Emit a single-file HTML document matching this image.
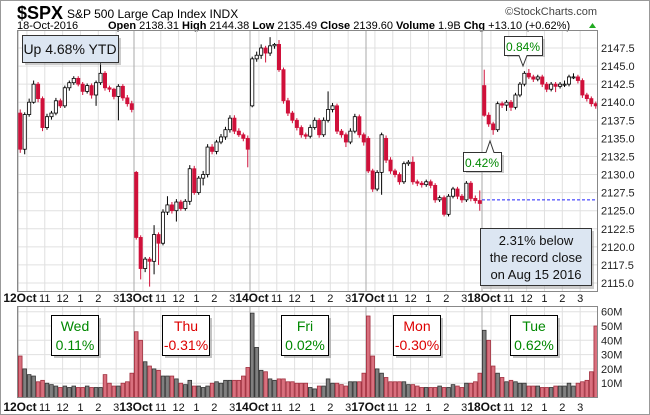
<!DOCTYPE html>
<html><head><meta charset="utf-8"><style>
body{margin:0;background:#fff}
svg{display:block;font-family:"Liberation Sans",sans-serif}
</style></head><body>
<svg id="c" width="650" height="415" viewBox="0 0 650 415">
<rect x="0.5" y="0.5" width="649" height="414" fill="#fff" stroke="#999"/>
<text x="17" y="19" font-size="18" font-weight="bold">$SPX</text>
<text x="67" y="18" font-size="12">S&amp;P 500 Large Cap Index  INDX</text>
<text x="597" y="15" font-size="11" text-anchor="end" fill="#444">©StockCharts.com</text>
<text x="17" y="29" font-size="11">18-Oct-2016</text>
<text x="108" y="29" font-size="11"><tspan font-weight="bold">Open</tspan> 2138.31 <tspan font-weight="bold">High</tspan> 2144.38 <tspan font-weight="bold">Low</tspan> 2135.49 <tspan font-weight="bold">Close</tspan> 2139.60 <tspan font-weight="bold">Volume</tspan> 1.9B <tspan font-weight="bold">Chg</tspan> +13.10 (+0.62%)</text>
<path d="M589 28 L592.5 23 L596 28Z" fill="#2a2"/>
<g id="grid"></g>
<g id="marks"></g>
<rect x="17.5" y="30.5" width="580" height="261" fill="none" stroke="#888"/>
<rect x="17.5" y="306.5" width="580" height="91" fill="none" stroke="#888"/>
<g id="notes"></g>
</svg>
<script>
const days=["12Oct","13Oct","14Oct","17Oct","18Oct"];
const hourLabels=["11","12","1","2","3"];
const priceTicks=[2115,2117.5,2120,2122.5,2125,2127.5,2130,2132.5,2135,2137.5,2140,2142.5,2145,2147.5];
const volTicks=[10,20,30,40,50,60];
const oct12=[[2138.5,2139,2133,2133.5],[2133.5,2138.6,2132.8,2138.3],[2138.3,2140.5,2138,2140],[2140,2143,2139.8,2142.5],[2142.5,2142.8,2140,2140.5],[2140.5,2140.8,2136,2136.5],[2136.5,2138.4,2136.2,2138],[2138,2138.8,2137.6,2138.5],[2138.5,2140.6,2138.2,2140.2],[2140.2,2140.5,2139.2,2139.5],[2139.5,2142.3,2139.2,2142],[2142,2143,2141.6,2142.7],[2142.7,2143.6,2142.4,2143.3],[2143.3,2143.6,2142.2,2142.5],[2142.5,2142.8,2141,2141.5],[2141.5,2142.6,2141.2,2142.3],[2142.3,2142.6,2140.5,2141],[2141,2143,2139.5,2142.7],[2142.7,2145.5,2142.4,2144],[2144,2144.3,2141.6,2142],[2142,2142.3,2141.4,2141.8],[2141.8,2142,2140.4,2140.8],[2140.8,2142.5,2137.5,2142.2],[2142.2,2142.5,2140.2,2140.6],[2140.6,2141,2139.4,2139.8],[2139.8,2140.2,2138.6,2139]];
const oct13=[[2130.3,2130.5,2121,2121.3],[2121.3,2121.6,2115.5,2117],[2117,2118.6,2116.5,2118.3],[2118.3,2118.6,2114.5,2118],[2118,2123,2116.2,2121.7],[2121.7,2122,2117.5,2120.5],[2120.5,2125.2,2120.2,2124.8],[2124.8,2127,2124.4,2125.8],[2125.8,2126.2,2124.6,2125],[2125,2126.6,2123.5,2126.2],[2126.2,2126.5,2125,2125.3],[2125.3,2126.6,2125,2126.3],[2126.3,2131.3,2125.8,2130.8],[2130.8,2131.2,2127.2,2127.5],[2127.5,2129.8,2127.2,2129.5],[2129.5,2130.5,2128.5,2130],[2130,2134.2,2129.6,2133.8],[2133.8,2134.2,2132.8,2133.2],[2133.2,2134.8,2132.8,2134.5],[2134.5,2135.6,2134.2,2135.2],[2135.2,2136.6,2134.8,2136.2],[2136.2,2138.2,2135.8,2137.8],[2137.8,2138.2,2135.6,2136],[2136,2136.4,2135.2,2135.5],[2135.5,2135.8,2134.6,2135],[2135,2135.4,2131,2133.5]];
const oct14=[[2139.5,2146.3,2139.3,2146],[2146,2147,2145.6,2146.5],[2146.5,2148,2146,2147.5],[2147.5,2147.8,2145.5,2146.8],[2146.8,2149,2146.4,2147.8],[2147.8,2148.2,2147.4,2148],[2148,2148.6,2144.2,2144.5],[2144.5,2144.8,2139.8,2140.2],[2140.2,2140.6,2138.1,2138.5],[2138.5,2138.8,2137.1,2137.5],[2137.5,2137.8,2136.1,2136.5],[2136.5,2136.8,2135.1,2135.5],[2135.5,2135.8,2134.9,2135.3],[2135.3,2136.9,2135,2136.5],[2136.5,2137.9,2136.2,2137.5],[2137.5,2137.8,2135.1,2135.5],[2135.5,2137.9,2135.2,2137.5],[2137.5,2141.5,2137.2,2139],[2139,2139.9,2138.6,2139.5],[2139.5,2139.8,2135.6,2136],[2136,2136.3,2135.1,2135.5],[2135.5,2135.8,2133.8,2134.5],[2134.5,2136.4,2134.2,2136],[2136,2138.4,2135.7,2138],[2138,2138.3,2135.1,2135.5],[2135.5,2135.8,2134,2134.5]];
const oct17=[[2135,2135.3,2130.2,2130.5],[2130.5,2130.8,2127.6,2128],[2128,2130.6,2127.7,2130.3],[2130.3,2135.8,2127.2,2135.5],[2135,2135.4,2131.6,2132],[2132,2132.4,2130.1,2130.5],[2130.5,2130.8,2129.6,2130],[2130,2130.3,2128.6,2129],[2129,2131.8,2128.7,2131.5],[2131.5,2132,2131.2,2131.7],[2131.7,2132.5,2128.6,2129],[2129,2129.3,2128.4,2128.8],[2128.8,2129.1,2128.2,2128.6],[2128.6,2129.3,2128.3,2129],[2129,2129.3,2128.1,2128.5],[2128.5,2128.8,2126.1,2126.5],[2126.5,2127.1,2126.2,2126.8],[2126.8,2127.1,2124.2,2124.5],[2124.5,2127.3,2124.2,2127],[2127,2128.3,2126.7,2128],[2128,2128.3,2126.6,2127],[2127,2127.3,2126.1,2126.5],[2126.5,2129.1,2126.2,2128.8],[2128.8,2129.1,2126.3,2126.7],[2126.7,2127.1,2126,2126.4],[2126.4,2127.8,2125,2126]];
const oct18=[[2142.3,2144.5,2138,2138.2],[2138.2,2138.6,2136.6,2137],[2137,2137.3,2135.5,2136.2],[2136.2,2140.1,2135.9,2139.8],[2139.8,2140.1,2139.2,2139.6],[2139.6,2140.3,2138.8,2140],[2140,2140.3,2138.8,2139.3],[2139.3,2141.3,2139,2141],[2141,2142.8,2140.7,2142.5],[2142.5,2144.3,2142.2,2144],[2144,2144.6,2143.2,2143.5],[2143.5,2143.8,2142.8,2143.2],[2143.2,2143.8,2142.9,2143.5],[2143.5,2143.8,2142.1,2142.5],[2142.5,2142.8,2141.4,2141.8],[2141.8,2142.8,2141.5,2142.5],[2142.5,2142.8,2141.4,2142.2],[2142.2,2142.8,2141.9,2142.5],[2142.5,2143,2142.1,2142.5],[2142.5,2143.8,2142.2,2143.5],[2143.5,2144,2143.2,2143.5],[2143.5,2143.8,2142.6,2143],[2143,2143.3,2140.6,2141],[2141,2141.3,2140.1,2140.5],[2140.5,2140.8,2139.4,2139.8],[2139.8,2140.1,2139.1,2139.5]];
const vol12=[29,20,16,15,11,12,10,9,8,7,8,7,8,7,7,8,7,7,7,16,10,8,8,10,11,17];
const vol13=[46,40,25,22,20,19,15,15,15,13,10,9,12,8,8,7,8,10,11,10,12,12,12,12,15,21];
const vol14=[59,35,19,18,13,12,13,13,11,11,10,10,10,7,6,8,8,13,10,10,9,8,11,11,11,17];
const vol17=[57,29,20,17,14,11,11,11,11,9,9,8,7,7,7,7,8,7,7,9,8,7,10,10,11,17];
const vol18=[47,40,22,17,14,11,12,11,10,10,8,8,8,7,7,7,8,8,8,10,8,10,11,12,18,50];
const recordLevel=2126.5;
const dayChanges=["Wed|0.11%","Thu|-0.31%","Fri|0.02%","Mon|-0.30%","Tue|0.62%"];

const bars=[].concat(oct12,oct13,oct14,oct17,oct18);
const vols=[].concat(vol12,vol13,vol14,vol17,vol18);
const X0=18,BW=580/130,BPD=26;
const xOf=i=>X0+(i+0.5)*BW;
const yP=p=>48+(2147.5-p)*(235/32.5);
const yV=v=>397.5-v*1.43;
const NS="http://www.w3.org/2000/svg";
function mk(tag,attrs,parent){const e=document.createElementNS(NS,tag);for(const k in attrs)e.setAttribute(k,attrs[k]);parent.appendChild(e);return e;}
const grid=document.getElementById('grid'),marks=document.getElementById('marks'),notes=document.getElementById('notes');
priceTicks.forEach(p=>{
  const l=mk('line',{x1:18,x2:597,y1:yP(p),y2:yP(p),stroke:'#e0e0e0'},grid);
  
  
  const t=mk('text',{x:601,y:yP(p)+4,'font-size':11,fill:'#222'},grid);
  t.textContent=p.toFixed(1);
  
  
});
volTicks.forEach(v=>{
  const l=mk('line',{x1:18,x2:597,y1:yV(v),y2:yV(v),stroke:'#e0e0e0'},grid);
  
  
  const t=mk('text',{x:601,y:yV(v)+4,'font-size':11,fill:'#222'},grid);
  t.textContent=v+'M';
  
  
});
days.forEach((d,k)=>{
  const bx=X0+k*BPD*BW;
  [0,2,6,10,14,18,22].forEach((b,j)=>{
    const x=X0+(k*BPD+b)*BW;
    [[31,291],[307,397]].forEach(r=>{
      const l=mk('line',{x1:x,x2:x,y1:r[0],y2:r[1],stroke:j==0?'#aaa':'#e0e0e0'},grid);
      
      
    });
    if(j>=2){[302,411].forEach(y=>{
      const t=mk('text',{x:x,y:y,'font-size':11,'text-anchor':'middle',fill:'#111'},grid);
      t.textContent=hourLabels[j-2];
      
      
    });}
  });
  [302,411].forEach(y=>{
    const t=mk('text',{x:bx+2,y:y,'font-size':12,'font-weight':'bold','text-anchor':'middle',fill:'#111'},grid);
    t.textContent=d;
    
    
  });
});
bars.forEach((b,i)=>{
  const [o,h,l,c]=b,x=xOf(i),down=c<o,col=down?'#d0103a':'#000';
  const w=mk('line',{x1:x,x2:x,y1:yP(h),y2:yP(l),stroke:col,'stroke-width':1},marks);
  
  
  const top=yP(Math.max(o,c)),bh=Math.max(1,Math.abs(yP(o)-yP(c)));
  const r=mk('rect',{x:x-1.6,y:top,width:3.2,height:bh,fill:down?'#d0103a':'#fff',stroke:down?'#d0103a':'#000','stroke-width':0.8},marks);
  
  
  const v=vols[i];
  const prev=i>0?bars[i-1][3]:o;
  const vdown=c<prev;
  const vr=mk('rect',{x:x-BW/2+0.4,y:yV(v),width:BW-0.8,height:397.5-yV(v),fill:vdown?'#d9707e':'#808080',stroke:vdown?'#a0303f':'#333','stroke-width':0.8},marks);
  
  
});
const dl=mk('line',{x1:X0+4*BPD*BW,x2:597,y1:yP(recordLevel),y2:yP(recordLevel),stroke:'#22f','stroke-dasharray':'3,2'},marks);


const boxX=[51,162,281,393,510];
dayChanges.forEach((s,k)=>{
  const [d,p]=s.split('|'),col=p[0]=='-'?'#d00':'#080';
  const g=mk('g',{},notes);
  
  
  mk('rect',{x:boxX[k]+3,y:318,width:47,height:40,fill:'#888',opacity:0.5},g);
  mk('rect',{x:boxX[k]+0.5,y:315.5,width:47,height:40,fill:'#fff',stroke:'#000'},g);
  const t1=mk('text',{x:boxX[k]+24,y:331,'font-size':14,'text-anchor':'middle',fill:col},g);t1.textContent=d;
  const t2=mk('text',{x:boxX[k]+24,y:350,'font-size':14,'text-anchor':'middle',fill:col},g);t2.textContent=p;
});
</script>
<svg style="position:absolute;left:0;top:0" width="650" height="415">
<g font-family="Liberation Sans,sans-serif">
<rect x="25" y="38" width="96" height="27" fill="#999" opacity="0.5"/>
<rect x="22.5" y="35.5" width="96" height="27" fill="#dce6f2" stroke="#333"/>
<text x="70" y="54" font-size="14" text-anchor="middle" fill="#111">Up 4.68% YTD</text>
<g>
<rect x="507" y="39" width="38" height="18" fill="#999" opacity="0.5"/>
<path d="M504.5 36.5 H542.5 V55.5 H527 L523 66 L519 55.5 H504.5Z" fill="#fff" stroke="#333"/>
<text x="523" y="51" font-size="12" text-anchor="middle" fill="#080">0.84%</text></g>
<g>
<rect x="466" y="155" width="38" height="18" fill="#999" opacity="0.5"/>
<path d="M463.5 152.5 H486 L490 141 L494 152.5 H501.5 V171.5 H463.5Z" fill="#fff" stroke="#333"/>
<text x="482" y="167" font-size="12" text-anchor="middle" fill="#080">0.42%</text></g>
<g>
<rect x="483" y="231" width="111" height="58" fill="#999" opacity="0.5"/>
<rect x="480.5" y="228.5" width="111" height="57" fill="#dce6f2" stroke="#333"/>
<text x="536" y="245" font-size="13" text-anchor="middle" fill="#111">2.31% below</text>
<text x="536" y="262" font-size="13" text-anchor="middle" fill="#111">the record close</text>
<text x="536" y="279" font-size="13" text-anchor="middle" fill="#111">on Aug 15 2016</text></g>
</g></svg>
</body></html>
